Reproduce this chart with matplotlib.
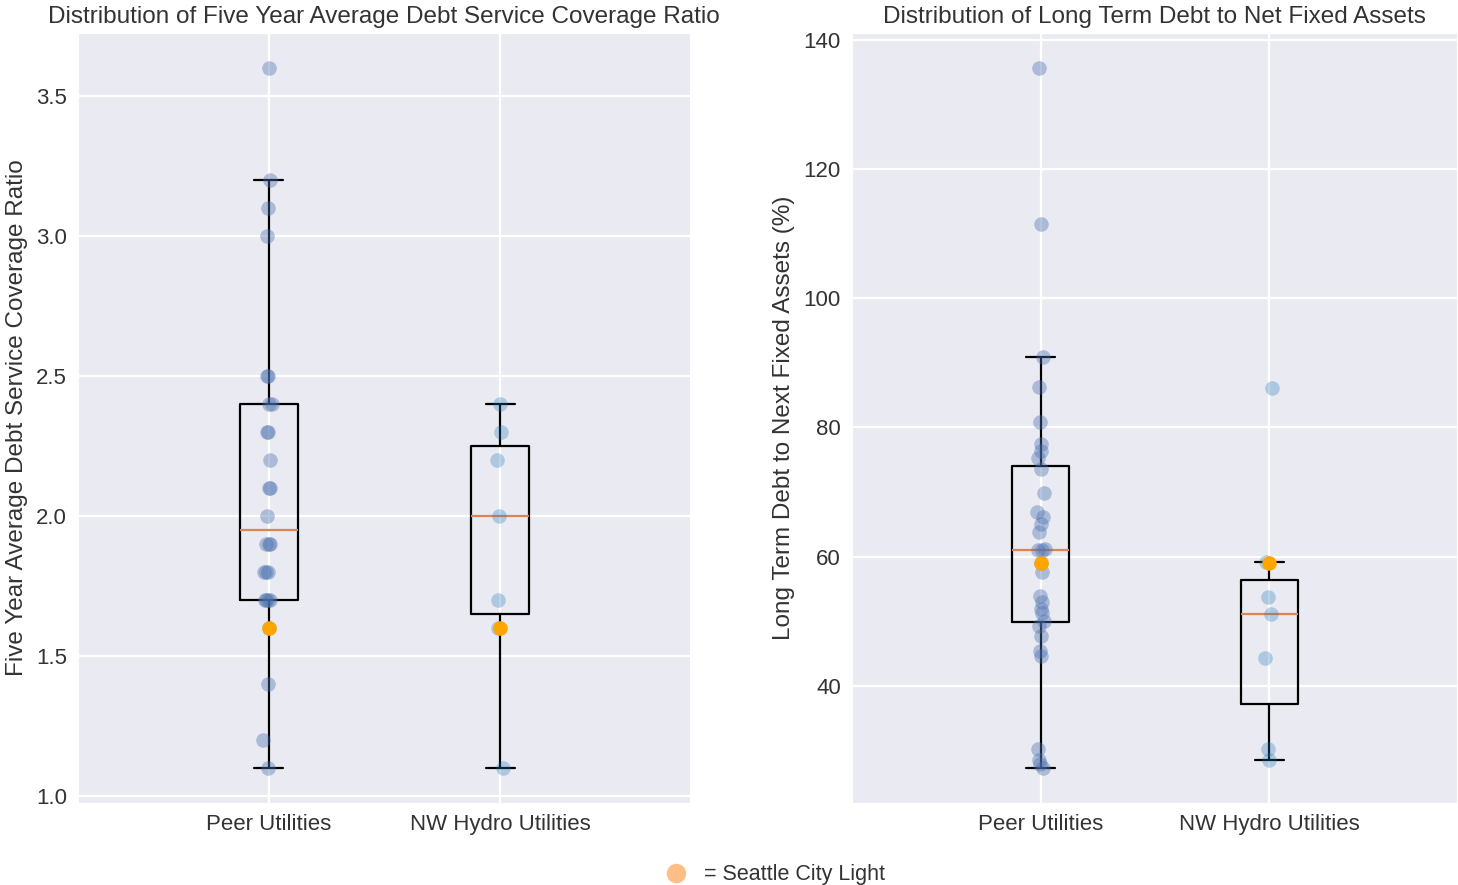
import numpy as np
import matplotlib
matplotlib.use("Agg")
import matplotlib.pyplot as plt
import seaborn as sns
from matplotlib.lines import Line2D

# ---------------- data ----------------
groups = ["Peer Utilities", "NW Hydro Utilities"]

dscr_peer = [3.6, 3.2, 3.1, 3.0, 2.5, 2.5, 2.4, 2.4, 2.3, 2.3, 2.2, 2.1, 2.1, 2.0,
             1.9, 1.9, 1.9, 1.8, 1.8, 1.8, 1.7, 1.7, 1.7, 1.7, 1.6, 1.4, 1.2, 1.1]
dscr_nw = [2.4, 2.3, 2.2, 2.0, 1.7, 1.6, 1.1]
dscr_scl = 1.6

ltd_peer = [135.6, 111.4, 90.9, 86.3, 80.9, 77.5, 76.3, 75.2, 73.6, 69.9, 66.9, 66.2,
            65.1, 63.8, 61.2, 61.0, 61.0, 59.0, 57.7, 53.9, 53.0, 51.9, 51.3, 50.1,
            49.2, 47.7, 45.4, 44.6, 30.2, 28.6, 27.9, 27.3]
ltd_nw = [86.1, 59.1, 53.8, 51.2, 44.3, 30.2, 28.6]
ltd_scl = 59.0

titles = ["Distribution of Five Year Average Debt Service Coverage Ratio",
          "Distribution of Long Term Debt to Net Fixed Assets"]
ylabels = ["Five Year Average Debt Service Coverage Ratio",
           "Long Term Debt to Next Fixed Assets (%)"]
left_yticks = [1.0, 1.5, 2.0, 2.5, 3.0, 3.5]
right_yticks = [40, 60, 80, 100, 120, 140]
legend_label = "= Seattle City Light"

# ---------------- style ----------------
sns.set_style("darkgrid")
plt.rcParams["font.family"] = ["Liberation Sans", "DejaVu Sans"]
TXT = "#333333"
plt.rcParams["text.color"] = TXT
plt.rcParams["axes.labelcolor"] = TXT
plt.rcParams["xtick.color"] = TXT
plt.rcParams["ytick.color"] = TXT

FS = 16
FS_TITLE = 17.5
W, H = 1458, 885
fig = plt.figure(figsize=(W / 100, H / 100), dpi=100)
ax1 = fig.add_axes([78 / W, 1 - 803 / H, (690 - 78) / W, (803 - 33) / H])
ax2 = fig.add_axes([852 / W, 1 - 803 / H, (1457 - 852) / W, (803 - 33) / H])

rng = np.random.default_rng(7)

peer_color = "#4C72B0"
nw_color = "#1f77b4"
scl_color = "orange"
median_color = "#DD8452"


def draw(ax, peer, nw, scl, yticks, title, ylabel, fmt):
    ax.boxplot([peer, nw], positions=[1, 2], widths=0.25, showfliers=False,
               boxprops=dict(color="black", linewidth=1.6),
               whiskerprops=dict(color="black", linewidth=1.6),
               capprops=dict(color="black", linewidth=1.6),
               medianprops=dict(color=median_color, linewidth=1.6))
    jp = rng.normal(0, 0.01, len(peer))
    jn = rng.normal(0, 0.01, len(nw))
    ax.scatter(1 + jp, peer, s=110, color=peer_color, alpha=0.4, linewidths=0, zorder=3)
    ax.scatter(2 + jn, nw, s=110, color=nw_color, alpha=0.3, linewidths=0, zorder=3)
    ax.scatter([1, 2], [scl, scl], s=110, color=scl_color, linewidths=0, zorder=4)
    ax.set_xticks([1, 2])
    ax.set_xticklabels(groups, fontsize=FS)
    ax.set_xlim(0.175, 2.82)
    ax.set_yticks(yticks)
    ax.set_yticklabels([fmt.format(v) for v in yticks], fontsize=FS)
    ax.set_title(title, fontsize=FS_TITLE, pad=7)
    ax.set_ylabel(ylabel, fontsize=FS_TITLE, labelpad=6)
    ax.grid(True, color="white", linewidth=1.6)
    ax.tick_params(length=0, pad=8)


draw(ax1, dscr_peer, dscr_nw, dscr_scl, left_yticks, titles[0], ylabels[0], "{:.1f}")
draw(ax2, ltd_peer, ltd_nw, ltd_scl, right_yticks, titles[1], ylabels[1], "{:d}")

handle = Line2D([], [], marker="o", linestyle="", markersize=14,
                markerfacecolor="#ff7f0e", markeredgewidth=0, alpha=0.5)
fig.legend([handle], [legend_label], loc="lower center", bbox_to_anchor=(0.528, -0.022),
           frameon=False, fontsize=15.5, handletextpad=0.3)

fig.savefig("out.png", dpi=100)
